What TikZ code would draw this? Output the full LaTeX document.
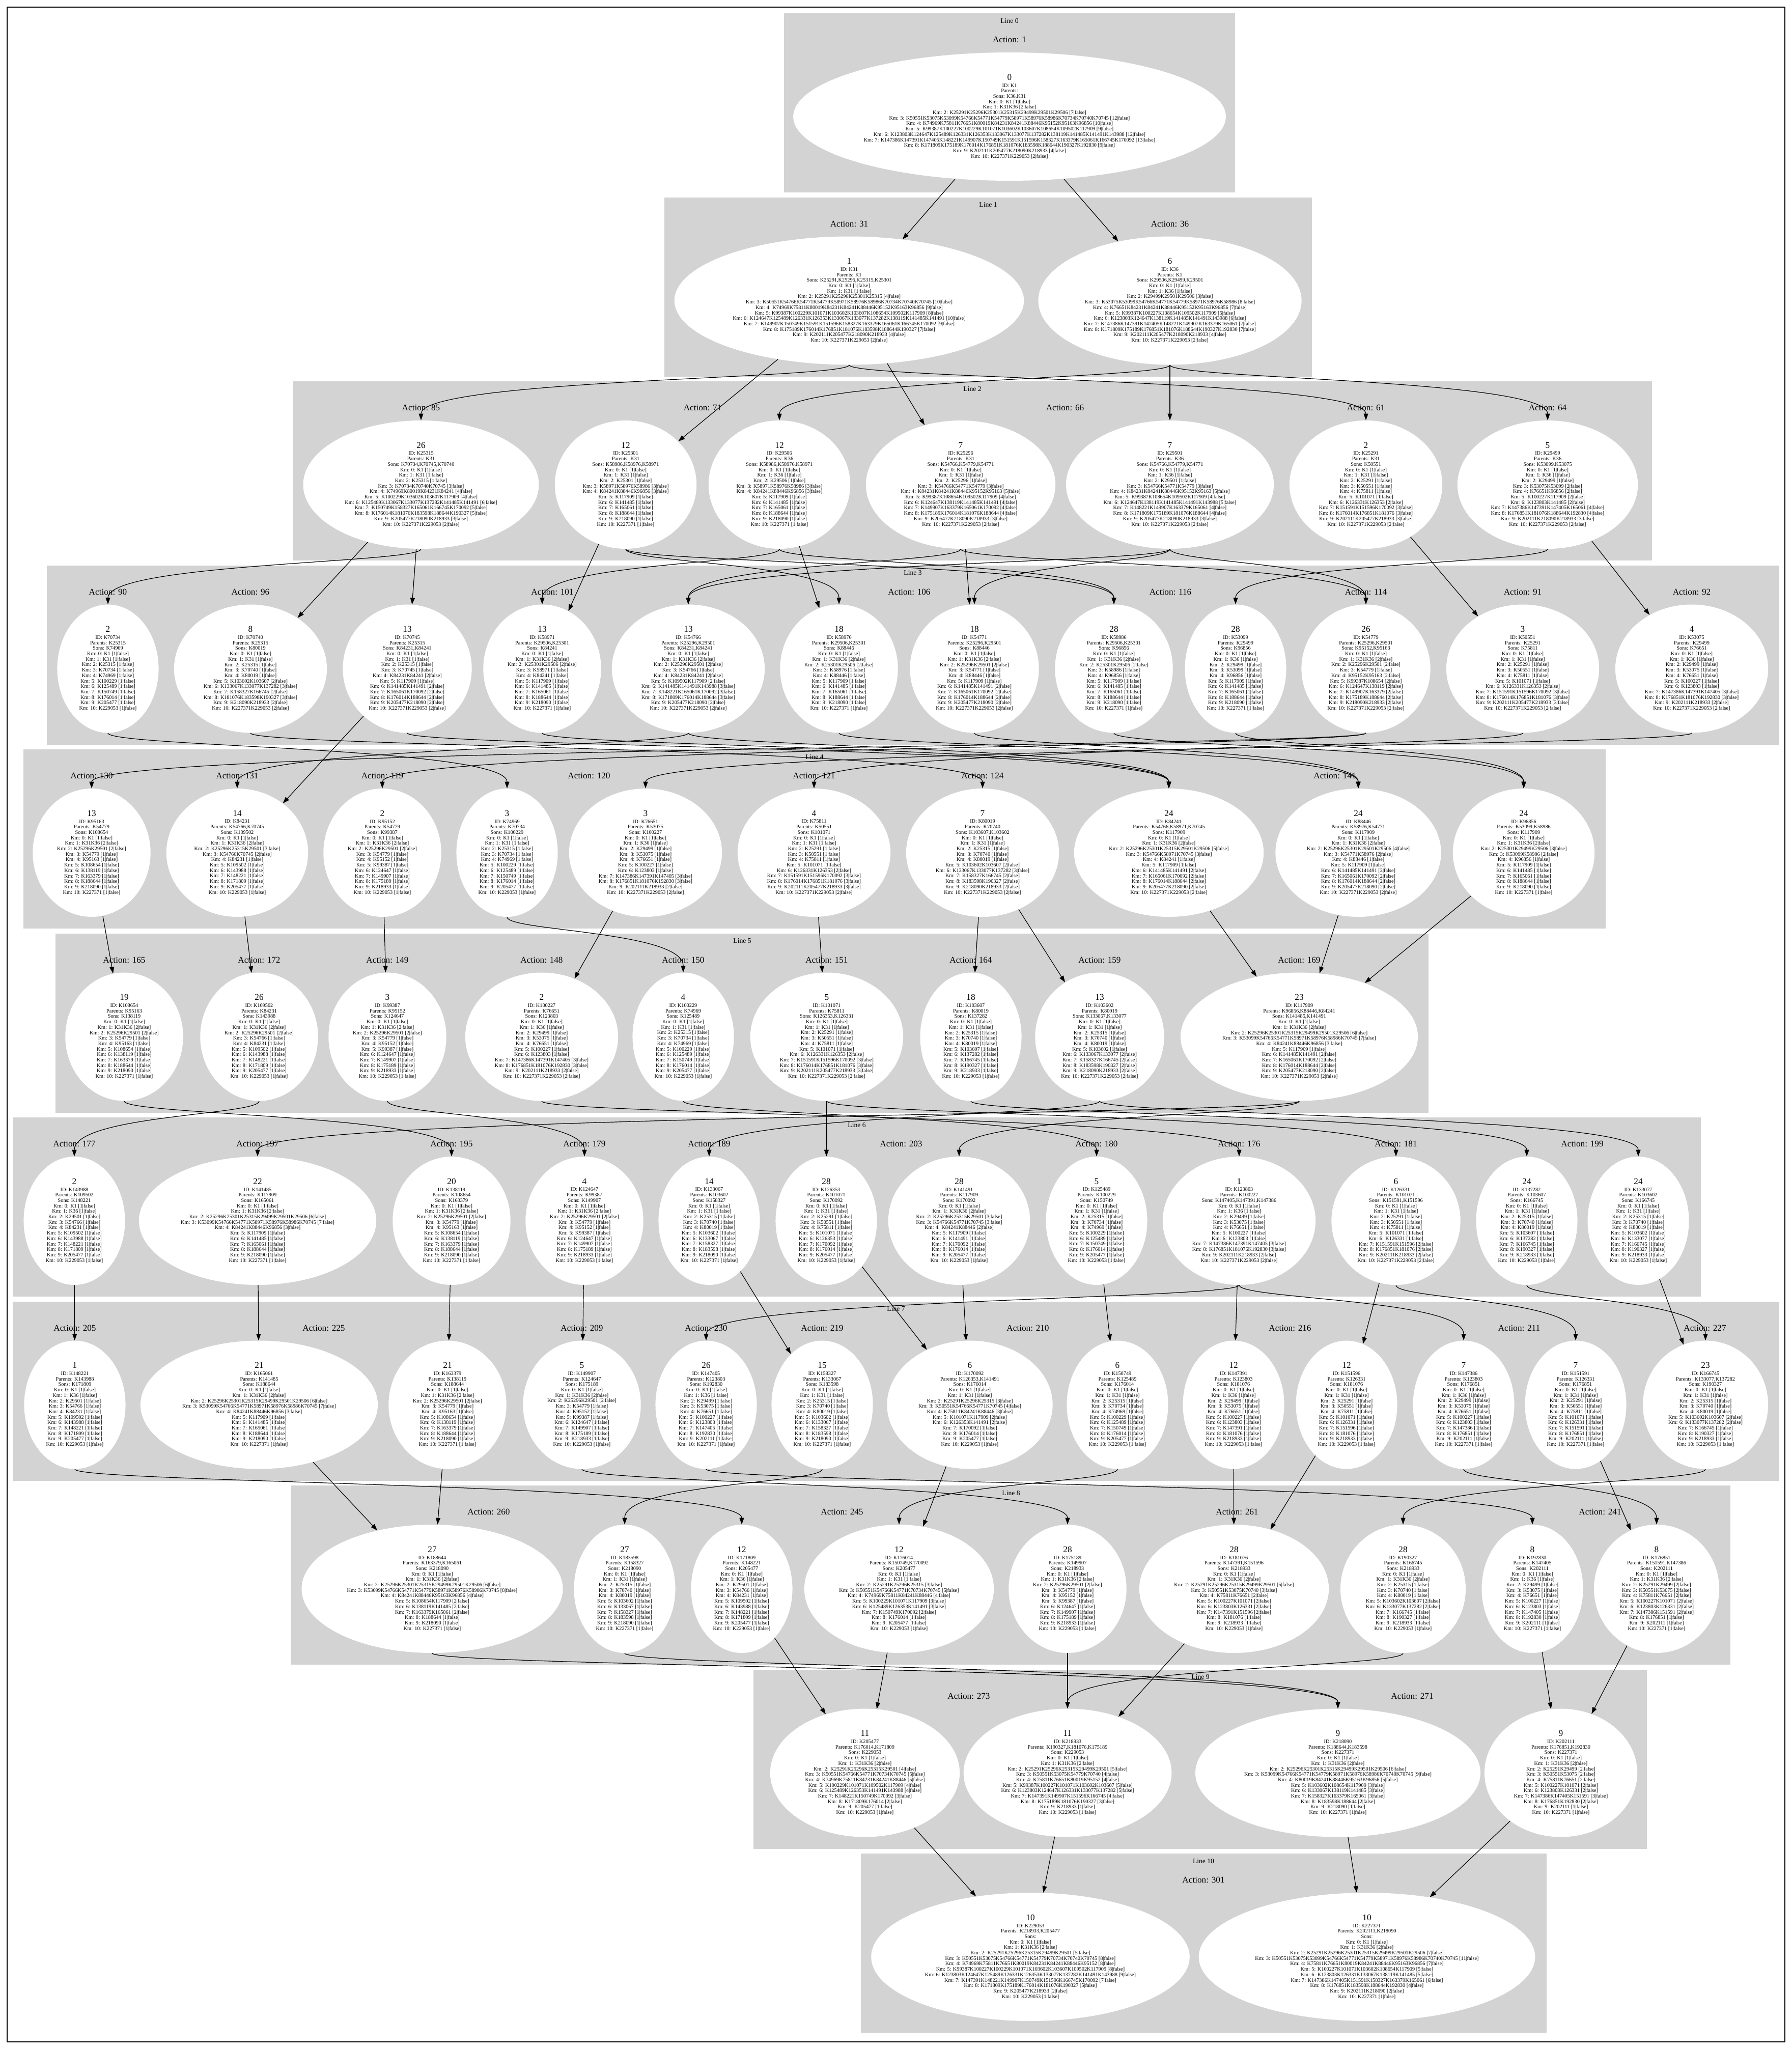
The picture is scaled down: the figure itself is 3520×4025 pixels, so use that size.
\documentclass[tikz,border=0pt]{standalone}
\usepackage{fontspec}
\setmainfont{Liberation Serif}
\usetikzlibrary{shapes.geometric,arrows.meta}

\definecolor{clustergrey}{HTML}{D3D3D3}

\newcommand{\kmhead}[4]{{\fontsize{8.6}{9}\selectfont #1}\\[1.6pt]ID: #2\\Parents: #3\\Sons: #4\\Km: 0: K1 [1|false]}
\newcommand{\kml}[3]{\\Km: #1: #2 [#3|false]}
% edge that drops into the gap under its line and runs along it
\newcommand{\gapedge}[3]{\draw[arr] (#1) .. controls (#1 |- 0,#3) and (#2 |- 0,#3) .. (#2);}

\begin{document}
\begin{tikzpicture}[
    x=0.5pt, y=-0.5pt,
    >={Triangle[length=6.5pt,width=4.5pt]},
    clus/.style={fill=clustergrey},
    linelbl/.style={font=\fontsize{6.8}{8}\selectfont, inner sep=0pt},
    actlbl/.style={font=\fontsize{8.6}{10}\selectfont, inner sep=0pt},
    knode/.style={ellipse, fill=white, inner xsep=7pt, inner ysep=2pt,
                  minimum height=126pt, align=center,
                  font=\fontsize{5.15}{5.35}\selectfont},
    arr/.style={->, line width=0.6pt}
  ]
    \useasboundingbox (0,0) rectangle (3520,4025);
    \draw[line width=1.2pt] (14,14) rectangle (3506,4011);

    %--- Line clusters ---
    \fill[clus] (1540,26) rectangle (2426,378);
    \fill[clus] (1305,387.5) rectangle (2577,739.5);
    \fill[clus] (575,749) rectangle (3245,1101);
    \fill[clus] (92,1110.5) rectangle (3494,1462.5);
    \fill[clus] (46,1472) rectangle (3154,1824);
    \fill[clus] (109,1833.5) rectangle (2806,2185.5);
    \fill[clus] (25,2195) rectangle (3341,2547);
    \fill[clus] (25,2556.5) rectangle (3494,2908.5);
    \fill[clus] (572,2918) rectangle (3399,3270);
    \fill[clus] (1480,3279.5) rectangle (3235,3631.5);
    \fill[clus] (1691,3641) rectangle (3038,3993);

    \node[linelbl] (line0) at (1983,41) {Line 0};
    \node[linelbl] (line1) at (1941,402.5) {Line 1};
    \node[linelbl] (line2) at (1910,764) {Line 2};
    \node[linelbl] (line3) at (1793,1125.5) {Line 3};
    \node[linelbl] (line4) at (1600,1487) {Line 4};
    \node[linelbl] (line5) at (1458,1848.5) {Line 5};
    \node[linelbl] (line6) at (1683,2210) {Line 6};
    \node[linelbl] (line7) at (1760,2571.5) {Line 7};
    \node[linelbl] (line8) at (1986,2933) {Line 8};
    \node[linelbl] (line9) at (2358,3294.5) {Line 9};
    \node[linelbl] (line10) at (2364,3656) {Line 10};

    %--- Action labels ---
    \node[actlbl] (act1) at (1983,78) {Action: 1};
    \node[actlbl] (act31) at (1668,439.5) {Action: 31};
    \node[actlbl] (act36) at (2298,439.5) {Action: 36};
    \node[actlbl] (act85) at (827,801) {Action: 85};
    \node[actlbl] (act71) at (1380,801) {Action: 71};
    \node[actlbl] (act66) at (2092,801) {Action: 66};
    \node[actlbl] (act61) at (2683,801) {Action: 61};
    \node[actlbl] (act64) at (3040,801) {Action: 64};
    \node[actlbl] (act90) at (212,1162.5) {Action: 90};
    \node[actlbl] (act96) at (492,1162.5) {Action: 96};
    \node[actlbl] (act101) at (1085,1162.5) {Action: 101};
    \node[actlbl] (act106) at (1786,1162.5) {Action: 106};
    \node[actlbl] (act116) at (2299,1162.5) {Action: 116};
    \node[actlbl] (act114) at (2683,1162.5) {Action: 114};
    \node[actlbl] (act91) at (2991,1162.5) {Action: 91};
    \node[actlbl] (act92) at (3323,1162.5) {Action: 92};
    \node[actlbl] (act130) at (180,1524) {Action: 130};
    \node[actlbl] (act131) at (466,1524) {Action: 131};
    \node[actlbl] (act119) at (751,1524) {Action: 119};
    \node[actlbl] (act120) at (1157,1524) {Action: 120};
    \node[actlbl] (act121) at (1599,1524) {Action: 121};
    \node[actlbl] (act124) at (1930,1524) {Action: 124};
    \node[actlbl] (act141) at (2622,1524) {Action: 141};
    \node[actlbl] (act165) at (244,1885.5) {Action: 165};
    \node[actlbl] (act172) at (509,1885.5) {Action: 172};
    \node[actlbl] (act149) at (761,1885.5) {Action: 149};
    \node[actlbl] (act148) at (1064,1885.5) {Action: 148};
    \node[actlbl] (act150) at (1342,1885.5) {Action: 150};
    \node[actlbl] (act151) at (1624,1885.5) {Action: 151};
    \node[actlbl] (act164) at (1907,1885.5) {Action: 164};
    \node[actlbl] (act159) at (2160,1885.5) {Action: 159};
    \node[actlbl] (act169) at (2552,1885.5) {Action: 169};
    \node[actlbl] (act177) at (146,2247) {Action: 177};
    \node[actlbl] (act197) at (506,2247) {Action: 197};
    \node[actlbl] (act195) at (887,2247) {Action: 195};
    \node[actlbl] (act179) at (1148,2247) {Action: 179};
    \node[actlbl] (act189) at (1393,2247) {Action: 189};
    \node[actlbl] (act203) at (1770,2247) {Action: 203};
    \node[actlbl] (act180) at (2154,2247) {Action: 180};
    \node[actlbl] (act176) at (2434,2247) {Action: 176};
    \node[actlbl] (act181) at (2742,2247) {Action: 181};
    \node[actlbl] (act199) at (3108,2247) {Action: 199};
    \node[actlbl] (act205) at (147,2608.5) {Action: 205};
    \node[actlbl] (act225) at (636,2608.5) {Action: 225};
    \node[actlbl] (act209) at (1143,2608.5) {Action: 209};
    \node[actlbl] (act230) at (1387,2608.5) {Action: 230};
    \node[actlbl] (act219) at (1615,2608.5) {Action: 219};
    \node[actlbl] (act210) at (2019,2608.5) {Action: 210};
    \node[actlbl] (act216) at (2534,2608.5) {Action: 216};
    \node[actlbl] (act211) at (2984,2608.5) {Action: 211};
    \node[actlbl] (act227) at (3349,2608.5) {Action: 227};
    \node[actlbl] (act260) at (960,2970) {Action: 260};
    \node[actlbl] (act245) at (1654,2970) {Action: 245};
    \node[actlbl] (act261) at (2430,2970) {Action: 261};
    \node[actlbl] (act241) at (3143,2970) {Action: 241};
    \node[actlbl] (act273) at (1903,3331.5) {Action: 273};
    \node[actlbl] (act271) at (2774,3331.5) {Action: 271};
    \node[actlbl] (act301) at (2364,3693) {Action: 301};

    %--- Line 0 ---
    \node[knode] (k1) at (1983,229) {\kmhead{0}{K1}{}{K36,K31}
      \kml{1}{K31K36}{2}\kml{2}{K25291K25296K25301K25315K29499K29501K29506}{7}
      \kml{3}{K50551K53075K53099K54766K54771K54779K58971K58976K58986K70734K70740K70745}{12}
      \kml{4}{K74969K75811K76651K80019K84231K84241K88446K95152K95163K96856}{10}
      \kml{5}{K99387K100227K100229K101071K103602K103607K108654K109502K117909}{9}
      \kml{6}{K123803K124647K125489K126331K126353K133067K133077K137282K138119K141485K141491K143988}{12}
      \kml{7}{K147386K147391K147405K148221K149907K150749K151591K151596K158327K163379K165061K166745K170092}{13}
      \kml{8}{K171809K175189K176014K176851K181076K183598K188644K190327K192830}{9}
      \kml{9}{K202111K205477K218090K218933}{4}\kml{10}{K227371K229053}{2}};

    %--- Line 1 ---
    \node[knode] (k31) at (1668,590.5) {\kmhead{1}{K31}{K1}{K25291,K25296,K25315,K25301}
      \kml{1}{K31}{1}\kml{2}{K25291K25296K25301K25315}{4}
      \kml{3}{K50551K54766K54771K54779K58971K58976K58986K70734K70740K70745}{10}
      \kml{4}{K74969K75811K80019K84231K84241K88446K95152K95163K96856}{9}
      \kml{5}{K99387K100229K101071K103602K103607K108654K109502K117909}{8}
      \kml{6}{K124647K125489K126331K126353K133067K133077K137282K138119K141485K141491}{10}
      \kml{7}{K149907K150749K151591K151596K158327K163379K165061K166745K170092}{9}
      \kml{8}{K175189K176014K176851K181076K183598K188644K190327}{7}
      \kml{9}{K202111K205477K218090K218933}{4}\kml{10}{K227371K229053}{2}};
    \node[knode] (k36) at (2298,590.5) {\kmhead{6}{K36}{K1}{K29506,K29499,K29501}
      \kml{1}{K36}{1}\kml{2}{K29499K29501K29506}{3}
      \kml{3}{K53075K53099K54766K54771K54779K58971K58976K58986}{8}
      \kml{4}{K76651K84231K84241K88446K95152K95163K96856}{7}
      \kml{5}{K99387K100227K108654K109502K117909}{5}
      \kml{6}{K123803K124647K138119K141485K141491K143988}{6}
      \kml{7}{K147386K147391K147405K148221K149907K163379K165061}{7}
      \kml{8}{K171809K175189K176851K181076K188644K190327K192830}{7}
      \kml{9}{K202111K205477K218090K218933}{4}\kml{10}{K227371K229053}{2}};

    %--- Line 2 ---
    \node[knode] (k25315) at (827,952) {\kmhead{26}{K25315}{K31}{K70734,K70745,K70740}
      \kml{1}{K31}{1}\kml{2}{K25315}{1}\kml{3}{K70734K70740K70745}{3}
      \kml{4}{K74969K80019K84231K84241}{4}\kml{5}{K100229K103602K103607K117909}{4}
      \kml{6}{K125489K133067K133077K137282K141485K141491}{6}
      \kml{7}{K150749K158327K165061K166745K170092}{5}
      \kml{8}{K176014K181076K183598K188644K190327}{5}
      \kml{9}{K205477K218090K218933}{3}\kml{10}{K227371K229053}{2}};
    \node[knode] (k25301) at (1229,952) {\kmhead{12}{K25301}{K31}{K58986,K58976,K58971}
      \kml{1}{K31}{1}\kml{2}{K25301}{1}\kml{3}{K58971K58976K58986}{3}
      \kml{4}{K84241K88446K96856}{3}\kml{5}{K117909}{1}\kml{6}{K141485}{1}
      \kml{7}{K165061}{1}\kml{8}{K188644}{1}\kml{9}{K218090}{1}\kml{10}{K227371}{1}};
    \node[knode] (k29506) at (1531,952) {\kmhead{12}{K29506}{K36}{K58986,K58976,K58971}
      \kml{1}{K36}{1}\kml{2}{K29506}{1}\kml{3}{K58971K58976K58986}{3}
      \kml{4}{K84241K88446K96856}{3}\kml{5}{K117909}{1}\kml{6}{K141485}{1}
      \kml{7}{K165061}{1}\kml{8}{K188644}{1}\kml{9}{K218090}{1}\kml{10}{K227371}{1}};
    \node[knode] (k25296) at (1887,952) {\kmhead{7}{K25296}{K31}{K54766,K54779,K54771}
      \kml{1}{K31}{1}\kml{2}{K25296}{1}\kml{3}{K54766K54771K54779}{3}
      \kml{4}{K84231K84241K88446K95152K95163}{5}\kml{5}{K99387K108654K109502K117909}{4}
      \kml{6}{K124647K138119K141485K141491}{4}\kml{7}{K149907K163379K165061K170092}{4}
      \kml{8}{K175189K176014K181076K188644}{4}\kml{9}{K205477K218090K218933}{3}
      \kml{10}{K227371K229053}{2}};
    \node[knode] (k29501) at (2298,952) {\kmhead{7}{K29501}{K36}{K54766,K54779,K54771}
      \kml{1}{K36}{1}\kml{2}{K29501}{1}\kml{3}{K54766K54771K54779}{3}
      \kml{4}{K84231K84241K88446K95152K95163}{5}\kml{5}{K99387K108654K109502K117909}{4}
      \kml{6}{K124647K138119K141485K141491K143988}{5}\kml{7}{K148221K149907K163379K165061}{4}
      \kml{8}{K171809K175189K181076K188644}{4}\kml{9}{K205477K218090K218933}{3}
      \kml{10}{K227371K229053}{2}};
    \node[knode] (k25291) at (2683,952) {\kmhead{2}{K25291}{K31}{K50551}
      \kml{1}{K31}{1}\kml{2}{K25291}{1}\kml{3}{K50551}{1}\kml{4}{K75811}{1}
      \kml{5}{K101071}{1}\kml{6}{K126331K126353}{2}\kml{7}{K151591K151596K170092}{3}
      \kml{8}{K176014K176851K181076}{3}\kml{9}{K202111K205477K218933}{3}
      \kml{10}{K227371K229053}{2}};
    \node[knode] (k29499) at (3040,952) {\kmhead{5}{K29499}{K36}{K53099,K53075}
      \kml{1}{K36}{1}\kml{2}{K29499}{1}\kml{3}{K53075K53099}{2}\kml{4}{K76651K96856}{2}
      \kml{5}{K100227K117909}{2}\kml{6}{K123803K141485}{2}
      \kml{7}{K147386K147391K147405K165061}{4}\kml{8}{K176851K181076K188644K192830}{4}
      \kml{9}{K202111K218090K218933}{3}\kml{10}{K227371K229053}{2}};

    %--- Line 3 ---
    \node[knode] (k70734) at (212,1313.5) {\kmhead{2}{K70734}{K25315}{K74969}
      \kml{1}{K31}{1}\kml{2}{K25315}{1}\kml{3}{K70734}{1}\kml{4}{K74969}{1}
      \kml{5}{K100229}{1}\kml{6}{K125489}{1}\kml{7}{K150749}{1}\kml{8}{K176014}{1}
      \kml{9}{K205477}{1}\kml{10}{K229053}{1}};
    \node[knode] (k70740) at (492,1313.5) {\kmhead{8}{K70740}{K25315}{K80019}
      \kml{1}{K31}{1}\kml{2}{K25315}{1}\kml{3}{K70740}{1}\kml{4}{K80019}{1}
      \kml{5}{K103602K103607}{2}\kml{6}{K133067K133077K137282}{3}\kml{7}{K158327K166745}{2}
      \kml{8}{K181076K183598K190327}{3}\kml{9}{K218090K218933}{2}\kml{10}{K227371K229053}{2}};
    \node[knode] (k70745) at (800,1313.5) {\kmhead{13}{K70745}{K25315}{K84231,K84241}
      \kml{1}{K31}{1}\kml{2}{K25315}{1}\kml{3}{K70745}{1}\kml{4}{K84231K84241}{2}
      \kml{5}{K117909}{1}\kml{6}{K141485K141491}{2}\kml{7}{K165061K170092}{2}
      \kml{8}{K176014K188644}{2}\kml{9}{K205477K218090}{2}\kml{10}{K227371K229053}{2}};
    \node[knode] (k58971) at (1065,1313.5) {\kmhead{13}{K58971}{K29506,K25301}{K84241}
      \kml{1}{K31K36}{2}\kml{2}{K25301K29506}{2}\kml{3}{K58971}{1}\kml{4}{K84241}{1}
      \kml{5}{K117909}{1}\kml{6}{K141485}{1}\kml{7}{K165061}{1}\kml{8}{K188644}{1}
      \kml{9}{K218090}{1}\kml{10}{K227371}{1}};
    \node[knode] (k54766) at (1352,1313.5) {\kmhead{13}{K54766}{K25296,K29501}{K84231,K84241}
      \kml{1}{K31K36}{2}\kml{2}{K25296K29501}{2}\kml{3}{K54766}{1}\kml{4}{K84231K84241}{2}
      \kml{5}{K109502K117909}{2}\kml{6}{K141485K141491K143988}{3}
      \kml{7}{K148221K165061K170092}{3}\kml{8}{K171809K176014K188644}{3}
      \kml{9}{K205477K218090}{2}\kml{10}{K227371K229053}{2}};
    \node[knode] (k58976) at (1648,1313.5) {\kmhead{18}{K58976}{K29506,K25301}{K88446}
      \kml{1}{K31K36}{2}\kml{2}{K25301K29506}{2}\kml{3}{K58976}{1}\kml{4}{K88446}{1}
      \kml{5}{K117909}{1}\kml{6}{K141485}{1}\kml{7}{K165061}{1}\kml{8}{K188644}{1}
      \kml{9}{K218090}{1}\kml{10}{K227371}{1}};
    \node[knode] (k54771) at (1914,1313.5) {\kmhead{18}{K54771}{K25296,K29501}{K88446}
      \kml{1}{K31K36}{2}\kml{2}{K25296K29501}{2}\kml{3}{K54771}{1}\kml{4}{K88446}{1}
      \kml{5}{K117909}{1}\kml{6}{K141485K141491}{2}\kml{7}{K165061K170092}{2}
      \kml{8}{K176014K188644}{2}\kml{9}{K205477K218090}{2}\kml{10}{K227371K229053}{2}};
    \node[knode] (k58986) at (2188,1313.5) {\kmhead{28}{K58986}{K29506,K25301}{K96856}
      \kml{1}{K31K36}{2}\kml{2}{K25301K29506}{2}\kml{3}{K58986}{1}\kml{4}{K96856}{1}
      \kml{5}{K117909}{1}\kml{6}{K141485}{1}\kml{7}{K165061}{1}\kml{8}{K188644}{1}
      \kml{9}{K218090}{1}\kml{10}{K227371}{1}};
    \node[knode] (k53099) at (2427,1313.5) {\kmhead{28}{K53099}{K29499}{K96856}
      \kml{1}{K36}{1}\kml{2}{K29499}{1}\kml{3}{K53099}{1}\kml{4}{K96856}{1}
      \kml{5}{K117909}{1}\kml{6}{K141485}{1}\kml{7}{K165061}{1}\kml{8}{K188644}{1}
      \kml{9}{K218090}{1}\kml{10}{K227371}{1}};
    \node[knode] (k54779) at (2683,1313.5) {\kmhead{26}{K54779}{K25296,K29501}{K95152,K95163}
      \kml{1}{K31K36}{2}\kml{2}{K25296K29501}{2}\kml{3}{K54779}{1}\kml{4}{K95152K95163}{2}
      \kml{5}{K99387K108654}{2}\kml{6}{K124647K138119}{2}\kml{7}{K149907K163379}{2}
      \kml{8}{K175189K188644}{2}\kml{9}{K218090K218933}{2}\kml{10}{K227371K229053}{2}};
    \node[knode] (k50551) at (2991,1313.5) {\kmhead{3}{K50551}{K25291}{K75811}
      \kml{1}{K31}{1}\kml{2}{K25291}{1}\kml{3}{K50551}{1}\kml{4}{K75811}{1}
      \kml{5}{K101071}{1}\kml{6}{K126331K126353}{2}\kml{7}{K151591K151596K170092}{3}
      \kml{8}{K176014K176851K181076}{3}\kml{9}{K202111K205477K218933}{3}
      \kml{10}{K227371K229053}{2}};
    \node[knode] (k53075) at (3323,1313.5) {\kmhead{4}{K53075}{K29499}{K76651}
      \kml{1}{K36}{1}\kml{2}{K29499}{1}\kml{3}{K53075}{1}\kml{4}{K76651}{1}
      \kml{5}{K100227}{1}\kml{6}{K123803}{1}\kml{7}{K147386K147391K147405}{3}
      \kml{8}{K176851K181076K192830}{3}\kml{9}{K202111K218933}{2}\kml{10}{K227371K229053}{2}};

    %--- Line 4 ---
    \node[knode] (k95163) at (180,1675) {\kmhead{13}{K95163}{K54779}{K108654}
      \kml{1}{K31K36}{2}\kml{2}{K25296K29501}{2}\kml{3}{K54779}{1}\kml{4}{K95163}{1}
      \kml{5}{K108654}{1}\kml{6}{K138119}{1}\kml{7}{K163379}{1}\kml{8}{K188644}{1}
      \kml{9}{K218090}{1}\kml{10}{K227371}{1}};
    \node[knode] (k84231) at (466,1675) {\kmhead{14}{K84231}{K54766,K70745}{K109502}
      \kml{1}{K31K36}{2}\kml{2}{K25296K25315K29501}{3}\kml{3}{K54766K70745}{2}
      \kml{4}{K84231}{1}\kml{5}{K109502}{1}\kml{6}{K143988}{1}\kml{7}{K148221}{1}
      \kml{8}{K171809}{1}\kml{9}{K205477}{1}\kml{10}{K229053}{1}};
    \node[knode] (k95152) at (751,1675) {\kmhead{2}{K95152}{K54779}{K99387}
      \kml{1}{K31K36}{2}\kml{2}{K25296K29501}{2}\kml{3}{K54779}{1}\kml{4}{K95152}{1}
      \kml{5}{K99387}{1}\kml{6}{K124647}{1}\kml{7}{K149907}{1}\kml{8}{K175189}{1}
      \kml{9}{K218933}{1}\kml{10}{K229053}{1}};
    \node[knode] (k74969) at (996,1675) {\kmhead{3}{K74969}{K70734}{K100229}
      \kml{1}{K31}{1}\kml{2}{K25315}{1}\kml{3}{K70734}{1}\kml{4}{K74969}{1}
      \kml{5}{K100229}{1}\kml{6}{K125489}{1}\kml{7}{K150749}{1}\kml{8}{K176014}{1}
      \kml{9}{K205477}{1}\kml{10}{K229053}{1}};
    \node[knode] (k76651) at (1268,1675) {\kmhead{3}{K76651}{K53075}{K100227}
      \kml{1}{K36}{1}\kml{2}{K29499}{1}\kml{3}{K53075}{1}\kml{4}{K76651}{1}
      \kml{5}{K100227}{1}\kml{6}{K123803}{1}\kml{7}{K147386K147391K147405}{3}
      \kml{8}{K176851K181076K192830}{3}\kml{9}{K202111K218933}{2}\kml{10}{K227371K229053}{2}};
    \node[knode] (k75811) at (1599,1675) {\kmhead{4}{K75811}{K50551}{K101071}
      \kml{1}{K31}{1}\kml{2}{K25291}{1}\kml{3}{K50551}{1}\kml{4}{K75811}{1}
      \kml{5}{K101071}{1}\kml{6}{K126331K126353}{2}\kml{7}{K151591K151596K170092}{3}
      \kml{8}{K176014K176851K181076}{3}\kml{9}{K202111K205477K218933}{3}
      \kml{10}{K227371K229053}{2}};
    \node[knode] (k80019) at (1930,1675) {\kmhead{7}{K80019}{K70740}{K103607,K103602}
      \kml{1}{K31}{1}\kml{2}{K25315}{1}\kml{3}{K70740}{1}\kml{4}{K80019}{1}
      \kml{5}{K103602K103607}{2}\kml{6}{K133067K133077K137282}{3}\kml{7}{K158327K166745}{2}
      \kml{8}{K183598K190327}{2}\kml{9}{K218090K218933}{2}\kml{10}{K227371K229053}{2}};
    \node[knode] (k84241) at (2296,1675) {\kmhead{24}{K84241}{K54766,K58971,K70745}{K117909}
      \kml{1}{K31K36}{2}\kml{2}{K25296K25301K25315K29501K29506}{5}
      \kml{3}{K54766K58971K70745}{3}\kml{4}{K84241}{1}\kml{5}{K117909}{1}
      \kml{6}{K141485K141491}{2}\kml{7}{K165061K170092}{2}\kml{8}{K176014K188644}{2}
      \kml{9}{K205477K218090}{2}\kml{10}{K227371K229053}{2}};
    \node[knode] (k88446) at (2668,1675) {\kmhead{24}{K88446}{K58976,K54771}{K117909}
      \kml{1}{K31K36}{2}\kml{2}{K25296K25301K29501K29506}{4}\kml{3}{K54771K58976}{2}
      \kml{4}{K88446}{1}\kml{5}{K117909}{1}\kml{6}{K141485K141491}{2}
      \kml{7}{K165061K170092}{2}\kml{8}{K176014K188644}{2}\kml{9}{K205477K218090}{2}
      \kml{10}{K227371K229053}{2}};
    \node[knode] (k96856) at (2993,1675) {\kmhead{24}{K96856}{K53099,K58986}{K117909}
      \kml{1}{K31K36}{2}\kml{2}{K25301K29499K29506}{3}\kml{3}{K53099K58986}{2}
      \kml{4}{K96856}{1}\kml{5}{K117909}{1}\kml{6}{K141485}{1}\kml{7}{K165061}{1}
      \kml{8}{K188644}{1}\kml{9}{K218090}{1}\kml{10}{K227371}{1}};

    %--- Line 5 ---
    \node[knode] (k108654) at (244,2036.5) {\kmhead{19}{K108654}{K95163}{K138119}
      \kml{1}{K31K36}{2}\kml{2}{K25296K29501}{2}\kml{3}{K54779}{1}\kml{4}{K95163}{1}
      \kml{5}{K108654}{1}\kml{6}{K138119}{1}\kml{7}{K163379}{1}\kml{8}{K188644}{1}
      \kml{9}{K218090}{1}\kml{10}{K227371}{1}};
    \node[knode] (k109502) at (509,2036.5) {\kmhead{26}{K109502}{K84231}{K143988}
      \kml{1}{K31K36}{2}\kml{2}{K25296K29501}{2}\kml{3}{K54766}{1}\kml{4}{K84231}{1}
      \kml{5}{K109502}{1}\kml{6}{K143988}{1}\kml{7}{K148221}{1}\kml{8}{K171809}{1}
      \kml{9}{K205477}{1}\kml{10}{K229053}{1}};
    \node[knode] (k99387) at (761,2036.5) {\kmhead{3}{K99387}{K95152}{K124647}
      \kml{1}{K31K36}{2}\kml{2}{K25296K29501}{2}\kml{3}{K54779}{1}\kml{4}{K95152}{1}
      \kml{5}{K99387}{1}\kml{6}{K124647}{1}\kml{7}{K149907}{1}\kml{8}{K175189}{1}
      \kml{9}{K218933}{1}\kml{10}{K229053}{1}};
    \node[knode] (k100227) at (1064,2036.5) {\kmhead{2}{K100227}{K76651}{K123803}
      \kml{1}{K36}{1}\kml{2}{K29499}{1}\kml{3}{K53075}{1}\kml{4}{K76651}{1}
      \kml{5}{K100227}{1}\kml{6}{K123803}{1}\kml{7}{K147386K147391K147405}{3}
      \kml{8}{K176851K181076K192830}{3}\kml{9}{K202111K218933}{2}\kml{10}{K227371K229053}{2}};
    \node[knode] (k100229) at (1342,2036.5) {\kmhead{4}{K100229}{K74969}{K125489}
      \kml{1}{K31}{1}\kml{2}{K25315}{1}\kml{3}{K70734}{1}\kml{4}{K74969}{1}
      \kml{5}{K100229}{1}\kml{6}{K125489}{1}\kml{7}{K150749}{1}\kml{8}{K176014}{1}
      \kml{9}{K205477}{1}\kml{10}{K229053}{1}};
    \node[knode] (k101071) at (1624,2036.5) {\kmhead{5}{K101071}{K75811}{K126353,K126331}
      \kml{1}{K31}{1}\kml{2}{K25291}{1}\kml{3}{K50551}{1}\kml{4}{K75811}{1}
      \kml{5}{K101071}{1}\kml{6}{K126331K126353}{2}\kml{7}{K151591K151596K170092}{3}
      \kml{8}{K176014K176851K181076}{3}\kml{9}{K202111K205477K218933}{3}
      \kml{10}{K227371K229053}{2}};
    \node[knode] (k103607) at (1907,2036.5) {\kmhead{18}{K103607}{K80019}{K137282}
      \kml{1}{K31}{1}\kml{2}{K25315}{1}\kml{3}{K70740}{1}\kml{4}{K80019}{1}
      \kml{5}{K103607}{1}\kml{6}{K137282}{1}\kml{7}{K166745}{1}\kml{8}{K190327}{1}
      \kml{9}{K218933}{1}\kml{10}{K229053}{1}};
    \node[knode] (k103602) at (2160,2036.5) {\kmhead{13}{K103602}{K80019}{K133067,K133077}
      \kml{1}{K31}{1}\kml{2}{K25315}{1}\kml{3}{K70740}{1}\kml{4}{K80019}{1}
      \kml{5}{K103602}{1}\kml{6}{K133067K133077}{2}\kml{7}{K158327K166745}{2}
      \kml{8}{K183598K190327}{2}\kml{9}{K218090K218933}{2}\kml{10}{K227371K229053}{2}};
    \node[knode] (k117909) at (2552,2036.5) {\kmhead{23}{K117909}{K96856,K88446,K84241}{K141485,K141491}
      \kml{1}{K31K36}{2}\kml{2}{K25296K25301K25315K29499K29501K29506}{6}
      \kml{3}{K53099K54766K54771K58971K58976K58986K70745}{7}\kml{4}{K84241K88446K96856}{3}
      \kml{5}{K117909}{1}\kml{6}{K141485K141491}{2}\kml{7}{K165061K170092}{2}
      \kml{8}{K176014K188644}{2}\kml{9}{K205477K218090}{2}\kml{10}{K227371K229053}{2}};

    %--- Line 6 ---
    \node[knode] (k143988) at (146,2398) {\kmhead{2}{K143988}{K109502}{K148221}
      \kml{1}{K36}{1}\kml{2}{K29501}{1}\kml{3}{K54766}{1}\kml{4}{K84231}{1}
      \kml{5}{K109502}{1}\kml{6}{K143988}{1}\kml{7}{K148221}{1}\kml{8}{K171809}{1}
      \kml{9}{K205477}{1}\kml{10}{K229053}{1}};
    \node[knode] (k141485) at (506,2398) {\kmhead{22}{K141485}{K117909}{K165061}
      \kml{1}{K31K36}{2}\kml{2}{K25296K25301K25315K29499K29501K29506}{6}
      \kml{3}{K53099K54766K54771K58971K58976K58986K70745}{7}\kml{4}{K84241K88446K96856}{3}
      \kml{5}{K117909}{1}\kml{6}{K141485}{1}\kml{7}{K165061}{1}\kml{8}{K188644}{1}
      \kml{9}{K218090}{1}\kml{10}{K227371}{1}};
    \node[knode] (k138119) at (887,2398) {\kmhead{20}{K138119}{K108654}{K163379}
      \kml{1}{K31K36}{2}\kml{2}{K25296K29501}{2}\kml{3}{K54779}{1}\kml{4}{K95163}{1}
      \kml{5}{K108654}{1}\kml{6}{K138119}{1}\kml{7}{K163379}{1}\kml{8}{K188644}{1}
      \kml{9}{K218090}{1}\kml{10}{K227371}{1}};
    \node[knode] (k124647) at (1148,2398) {\kmhead{4}{K124647}{K99387}{K149907}
      \kml{1}{K31K36}{2}\kml{2}{K25296K29501}{2}\kml{3}{K54779}{1}\kml{4}{K95152}{1}
      \kml{5}{K99387}{1}\kml{6}{K124647}{1}\kml{7}{K149907}{1}\kml{8}{K175189}{1}
      \kml{9}{K218933}{1}\kml{10}{K229053}{1}};
    \node[knode] (k133067) at (1393,2398) {\kmhead{14}{K133067}{K103602}{K158327}
      \kml{1}{K31}{1}\kml{2}{K25315}{1}\kml{3}{K70740}{1}\kml{4}{K80019}{1}
      \kml{5}{K103602}{1}\kml{6}{K133067}{1}\kml{7}{K158327}{1}\kml{8}{K183598}{1}
      \kml{9}{K218090}{1}\kml{10}{K227371}{1}};
    \node[knode] (k126353) at (1623,2398) {\kmhead{28}{K126353}{K101071}{K170092}
      \kml{1}{K31}{1}\kml{2}{K25291}{1}\kml{3}{K50551}{1}\kml{4}{K75811}{1}
      \kml{5}{K101071}{1}\kml{6}{K126353}{1}\kml{7}{K170092}{1}\kml{8}{K176014}{1}
      \kml{9}{K205477}{1}\kml{10}{K229053}{1}};
    \node[knode] (k141491) at (1884,2398) {\kmhead{28}{K141491}{K117909}{K170092}
      \kml{1}{K31K36}{2}\kml{2}{K25296K25315K29501}{3}\kml{3}{K54766K54771K70745}{3}
      \kml{4}{K84241K88446}{2}\kml{5}{K117909}{1}\kml{6}{K141491}{1}\kml{7}{K170092}{1}
      \kml{8}{K176014}{1}\kml{9}{K205477}{1}\kml{10}{K229053}{1}};
    \node[knode] (k125489) at (2154,2398) {\kmhead{5}{K125489}{K100229}{K150749}
      \kml{1}{K31}{1}\kml{2}{K25315}{1}\kml{3}{K70734}{1}\kml{4}{K74969}{1}
      \kml{5}{K100229}{1}\kml{6}{K125489}{1}\kml{7}{K150749}{1}\kml{8}{K176014}{1}
      \kml{9}{K205477}{1}\kml{10}{K229053}{1}};
    \node[knode] (k123803) at (2434,2398) {\kmhead{1}{K123803}{K100227}{K147405,K147391,K147386}
      \kml{1}{K36}{1}\kml{2}{K29499}{1}\kml{3}{K53075}{1}\kml{4}{K76651}{1}
      \kml{5}{K100227}{1}\kml{6}{K123803}{1}\kml{7}{K147386K147391K147405}{3}
      \kml{8}{K176851K181076K192830}{3}\kml{9}{K202111K218933}{2}\kml{10}{K227371K229053}{2}};
    \node[knode] (k126331) at (2742,2398) {\kmhead{6}{K126331}{K101071}{K151591,K151596}
      \kml{1}{K31}{1}\kml{2}{K25291}{1}\kml{3}{K50551}{1}\kml{4}{K75811}{1}
      \kml{5}{K101071}{1}\kml{6}{K126331}{1}\kml{7}{K151591K151596}{2}
      \kml{8}{K176851K181076}{2}\kml{9}{K202111K218933}{2}\kml{10}{K227371K229053}{2}};
    \node[knode] (k137282) at (2999,2398) {\kmhead{24}{K137282}{K103607}{K166745}
      \kml{1}{K31}{1}\kml{2}{K25315}{1}\kml{3}{K70740}{1}\kml{4}{K80019}{1}
      \kml{5}{K103607}{1}\kml{6}{K137282}{1}\kml{7}{K166745}{1}\kml{8}{K190327}{1}
      \kml{9}{K218933}{1}\kml{10}{K229053}{1}};
    \node[knode] (k133077) at (3218,2398) {\kmhead{24}{K133077}{K103602}{K166745}
      \kml{1}{K31}{1}\kml{2}{K25315}{1}\kml{3}{K70740}{1}\kml{4}{K80019}{1}
      \kml{5}{K103602}{1}\kml{6}{K133077}{1}\kml{7}{K166745}{1}\kml{8}{K190327}{1}
      \kml{9}{K218933}{1}\kml{10}{K229053}{1}};

    %--- Line 7 ---
    \node[knode] (k148221) at (147,2759.5) {\kmhead{1}{K148221}{K143988}{K171809}
      \kml{1}{K36}{1}\kml{2}{K29501}{1}\kml{3}{K54766}{1}\kml{4}{K84231}{1}
      \kml{5}{K109502}{1}\kml{6}{K143988}{1}\kml{7}{K148221}{1}\kml{8}{K171809}{1}
      \kml{9}{K205477}{1}\kml{10}{K229053}{1}};
    \node[knode] (k165061) at (509,2759.5) {\kmhead{21}{K165061}{K141485}{K188644}
      \kml{1}{K31K36}{2}\kml{2}{K25296K25301K25315K29499K29501K29506}{6}
      \kml{3}{K53099K54766K54771K58971K58976K58986K70745}{7}\kml{4}{K84241K88446K96856}{3}
      \kml{5}{K117909}{1}\kml{6}{K141485}{1}\kml{7}{K165061}{1}\kml{8}{K188644}{1}
      \kml{9}{K218090}{1}\kml{10}{K227371}{1}};
    \node[knode] (k163379) at (879,2759.5) {\kmhead{21}{K163379}{K138119}{K188644}
      \kml{1}{K31K36}{2}\kml{2}{K25296K29501}{2}\kml{3}{K54779}{1}\kml{4}{K95163}{1}
      \kml{5}{K108654}{1}\kml{6}{K138119}{1}\kml{7}{K163379}{1}\kml{8}{K188644}{1}
      \kml{9}{K218090}{1}\kml{10}{K227371}{1}};
    \node[knode] (k149907) at (1143,2759.5) {\kmhead{5}{K149907}{K124647}{K175189}
      \kml{1}{K31K36}{2}\kml{2}{K25296K29501}{2}\kml{3}{K54779}{1}\kml{4}{K95152}{1}
      \kml{5}{K99387}{1}\kml{6}{K124647}{1}\kml{7}{K149907}{1}\kml{8}{K175189}{1}
      \kml{9}{K218933}{1}\kml{10}{K229053}{1}};
    \node[knode] (k147405) at (1387,2759.5) {\kmhead{26}{K147405}{K123803}{K192830}
      \kml{1}{K36}{1}\kml{2}{K29499}{1}\kml{3}{K53075}{1}\kml{4}{K76651}{1}
      \kml{5}{K100227}{1}\kml{6}{K123803}{1}\kml{7}{K147405}{1}\kml{8}{K192830}{1}
      \kml{9}{K202111}{1}\kml{10}{K227371}{1}};
    \node[knode] (k158327) at (1615,2759.5) {\kmhead{15}{K158327}{K133067}{K183598}
      \kml{1}{K31}{1}\kml{2}{K25315}{1}\kml{3}{K70740}{1}\kml{4}{K80019}{1}
      \kml{5}{K103602}{1}\kml{6}{K133067}{1}\kml{7}{K158327}{1}\kml{8}{K183598}{1}
      \kml{9}{K218090}{1}\kml{10}{K227371}{1}};
    \node[knode] (k170092) at (1905,2759.5) {\kmhead{6}{K170092}{K126353,K141491}{K176014}
      \kml{1}{K31}{1}\kml{2}{K25291K25296K25315}{3}\kml{3}{K50551K54766K54771K70745}{4}
      \kml{4}{K75811K84241K88446}{3}\kml{5}{K101071K117909}{2}\kml{6}{K126353K141491}{2}
      \kml{7}{K170092}{1}\kml{8}{K176014}{1}\kml{9}{K205477}{1}\kml{10}{K229053}{1}};
    \node[knode] (k150749) at (2195,2759.5) {\kmhead{6}{K150749}{K125489}{K176014}
      \kml{1}{K31}{1}\kml{2}{K25315}{1}\kml{3}{K70734}{1}\kml{4}{K74969}{1}
      \kml{5}{K100229}{1}\kml{6}{K125489}{1}\kml{7}{K150749}{1}\kml{8}{K176014}{1}
      \kml{9}{K205477}{1}\kml{10}{K229053}{1}};
    \node[knode] (k147391) at (2423,2759.5) {\kmhead{12}{K147391}{K123803}{K181076}
      \kml{1}{K36}{1}\kml{2}{K29499}{1}\kml{3}{K53075}{1}\kml{4}{K76651}{1}
      \kml{5}{K100227}{1}\kml{6}{K123803}{1}\kml{7}{K147391}{1}\kml{8}{K181076}{1}
      \kml{9}{K218933}{1}\kml{10}{K229053}{1}};
    \node[knode] (k151596) at (2645,2759.5) {\kmhead{12}{K151596}{K126331}{K181076}
      \kml{1}{K31}{1}\kml{2}{K25291}{1}\kml{3}{K50551}{1}\kml{4}{K75811}{1}
      \kml{5}{K101071}{1}\kml{6}{K126331}{1}\kml{7}{K151596}{1}\kml{8}{K181076}{1}
      \kml{9}{K218933}{1}\kml{10}{K229053}{1}};
    \node[knode] (k147386) at (2875,2759.5) {\kmhead{7}{K147386}{K123803}{K176851}
      \kml{1}{K36}{1}\kml{2}{K29499}{1}\kml{3}{K53075}{1}\kml{4}{K76651}{1}
      \kml{5}{K100227}{1}\kml{6}{K123803}{1}\kml{7}{K147386}{1}\kml{8}{K176851}{1}
      \kml{9}{K202111}{1}\kml{10}{K227371}{1}};
    \node[knode] (k151591) at (3095,2759.5) {\kmhead{7}{K151591}{K126331}{K176851}
      \kml{1}{K31}{1}\kml{2}{K25291}{1}\kml{3}{K50551}{1}\kml{4}{K75811}{1}
      \kml{5}{K101071}{1}\kml{6}{K126331}{1}\kml{7}{K151591}{1}\kml{8}{K176851}{1}
      \kml{9}{K202111}{1}\kml{10}{K227371}{1}};
    \node[knode] (k166745) at (3350,2759.5) {\kmhead{23}{K166745}{K133077,K137282}{K190327}
      \kml{1}{K31}{1}\kml{2}{K25315}{1}\kml{3}{K70740}{1}\kml{4}{K80019}{1}
      \kml{5}{K103602K103607}{2}\kml{6}{K133077K137282}{2}\kml{7}{K166745}{1}
      \kml{8}{K190327}{1}\kml{9}{K218933}{1}\kml{10}{K229053}{1}};

    %--- Line 8 ---
    \node[knode] (k188644) at (849,3121) {\kmhead{27}{K188644}{K163379,K165061}{K218090}
      \kml{1}{K31K36}{2}\kml{2}{K25296K25301K25315K29499K29501K29506}{6}
      \kml{3}{K53099K54766K54771K54779K58971K58976K58986K70745}{8}
      \kml{4}{K84241K88446K95163K96856}{4}\kml{5}{K108654K117909}{2}
      \kml{6}{K138119K141485}{2}\kml{7}{K163379K165061}{2}\kml{8}{K188644}{1}
      \kml{9}{K218090}{1}\kml{10}{K227371}{1}};
    \node[knode] (k183598) at (1227,3121) {\kmhead{27}{K183598}{K158327}{K218090}
      \kml{1}{K31}{1}\kml{2}{K25315}{1}\kml{3}{K70740}{1}\kml{4}{K80019}{1}
      \kml{5}{K103602}{1}\kml{6}{K133067}{1}\kml{7}{K158327}{1}\kml{8}{K183598}{1}
      \kml{9}{K218090}{1}\kml{10}{K227371}{1}};
    \node[knode] (k171809) at (1457,3121) {\kmhead{12}{K171809}{K148221}{K205477}
      \kml{1}{K36}{1}\kml{2}{K29501}{1}\kml{3}{K54766}{1}\kml{4}{K84231}{1}
      \kml{5}{K109502}{1}\kml{6}{K143988}{1}\kml{7}{K148221}{1}\kml{8}{K171809}{1}
      \kml{9}{K205477}{1}\kml{10}{K229053}{1}};
    \node[knode] (k176014) at (1766,3121) {\kmhead{12}{K176014}{K150749,K170092}{K205477}
      \kml{1}{K31}{1}\kml{2}{K25291K25296K25315}{3}\kml{3}{K50551K54766K54771K70734K70745}{5}
      \kml{4}{K74969K75811K84241K88446}{4}\kml{5}{K100229K101071K117909}{3}
      \kml{6}{K125489K126353K141491}{3}\kml{7}{K150749K170092}{2}\kml{8}{K176014}{1}
      \kml{9}{K205477}{1}\kml{10}{K229053}{1}};
    \node[knode] (k175189) at (2097,3121) {\kmhead{28}{K175189}{K149907}{K218933}
      \kml{1}{K31K36}{2}\kml{2}{K25296K29501}{2}\kml{3}{K54779}{1}\kml{4}{K95152}{1}
      \kml{5}{K99387}{1}\kml{6}{K124647}{1}\kml{7}{K149907}{1}\kml{8}{K175189}{1}
      \kml{9}{K218933}{1}\kml{10}{K229053}{1}};
    \node[knode] (k181076) at (2424,3121) {\kmhead{28}{K181076}{K147391,K151596}{K218933}
      \kml{1}{K31K36}{2}\kml{2}{K25291K25296K25315K29499K29501}{5}\kml{3}{K50551K53075K70740}{3}
      \kml{4}{K75811K76651}{2}\kml{5}{K100227K101071}{2}\kml{6}{K123803K126331}{2}
      \kml{7}{K147391K151596}{2}\kml{8}{K181076}{1}\kml{9}{K218933}{1}\kml{10}{K229053}{1}};
    \node[knode] (k190327) at (2756,3121) {\kmhead{28}{K190327}{K166745}{K218933}
      \kml{1}{K31K36}{2}\kml{2}{K25315}{1}\kml{3}{K70740}{1}\kml{4}{K80019}{1}
      \kml{5}{K103602K103607}{2}\kml{6}{K133077K137282}{2}\kml{7}{K166745}{1}
      \kml{8}{K190327}{1}\kml{9}{K218933}{1}\kml{10}{K229053}{1}};
    \node[knode] (k192830) at (3010,3121) {\kmhead{8}{K192830}{K147405}{K202111}
      \kml{1}{K36}{1}\kml{2}{K29499}{1}\kml{3}{K53075}{1}\kml{4}{K76651}{1}
      \kml{5}{K100227}{1}\kml{6}{K123803}{1}\kml{7}{K147405}{1}\kml{8}{K192830}{1}
      \kml{9}{K202111}{1}\kml{10}{K227371}{1}};
    \node[knode] (k176851) at (3254,3121) {\kmhead{8}{K176851}{K151591,K147386}{K202111}
      \kml{1}{K31K36}{2}\kml{2}{K25291K29499}{2}\kml{3}{K50551K53075}{2}
      \kml{4}{K75811K76651}{2}\kml{5}{K100227K101071}{2}\kml{6}{K123803K126331}{2}
      \kml{7}{K147386K151591}{2}\kml{8}{K176851}{1}\kml{9}{K202111}{1}\kml{10}{K227371}{1}};

    %--- Line 9 ---
    \node[knode] (k205477) at (1699,3482.5) {\kmhead{11}{K205477}{K176014,K171809}{K229053}
      \kml{1}{K31K36}{2}\kml{2}{K25291K25296K25315K29501}{4}
      \kml{3}{K50551K54766K54771K70734K70745}{5}\kml{4}{K74969K75811K84231K84241K88446}{5}
      \kml{5}{K100229K101071K109502K117909}{4}\kml{6}{K125489K126353K141491K143988}{4}
      \kml{7}{K148221K150749K170092}{3}\kml{8}{K171809K176014}{2}\kml{9}{K205477}{1}
      \kml{10}{K229053}{1}};
    \node[knode] (k218933) at (2097,3482.5) {\kmhead{11}{K218933}{K190327,K181076,K175189}{K229053}
      \kml{1}{K31K36}{2}\kml{2}{K25291K25296K25315K29499K29501}{5}
      \kml{3}{K50551K53075K54779K70740}{4}\kml{4}{K75811K76651K80019K95152}{4}
      \kml{5}{K99387K100227K101071K103602K103607}{5}
      \kml{6}{K123803K124647K126331K133077K137282}{5}
      \kml{7}{K147391K149907K151596K166745}{4}\kml{8}{K175189K181076K190327}{3}
      \kml{9}{K218933}{1}\kml{10}{K229053}{1}};
    \node[knode] (k218090) at (2628,3482.5) {\kmhead{9}{K218090}{K188644,K183598}{K227371}
      \kml{1}{K31K36}{2}\kml{2}{K25296K25301K25315K29499K29501K29506}{6}
      \kml{3}{K53099K54766K54771K54779K58971K58976K58986K70740K70745}{9}
      \kml{4}{K80019K84241K88446K95163K96856}{5}\kml{5}{K103602K108654K117909}{3}
      \kml{6}{K133067K138119K141485}{3}\kml{7}{K158327K163379K165061}{3}
      \kml{8}{K183598K188644}{2}\kml{9}{K218090}{1}\kml{10}{K227371}{1}};
    \node[knode] (k202111) at (3066,3482.5) {\kmhead{9}{K202111}{K176851,K192830}{K227371}
      \kml{1}{K31K36}{2}\kml{2}{K25291K29499}{2}\kml{3}{K50551K53075}{2}
      \kml{4}{K75811K76651}{2}\kml{5}{K100227K101071}{2}\kml{6}{K123803K126331}{2}
      \kml{7}{K147386K147405K151591}{3}\kml{8}{K176851K192830}{2}\kml{9}{K202111}{1}
      \kml{10}{K227371}{1}};

    %--- Line 10 ---
    \node[knode] (k229053) at (2024,3844) {\kmhead{10}{K229053}{K218933,K205477}{}
      \kml{1}{K31K36}{2}\kml{2}{K25291K25296K25315K29499K29501}{5}
      \kml{3}{K50551K53075K54766K54771K54779K70734K70740K70745}{8}
      \kml{4}{K74969K75811K76651K80019K84231K84241K88446K95152}{8}
      \kml{5}{K99387K100227K100229K101071K103602K103607K109502K117909}{8}
      \kml{6}{K123803K124647K125489K126331K126353K133077K137282K141491K143988}{9}
      \kml{7}{K147391K148221K149907K150749K151596K166745K170092}{7}
      \kml{8}{K171809K175189K176014K181076K190327}{5}\kml{9}{K205477K218933}{2}
      \kml{10}{K229053}{1}};
    \node[knode] (k227371) at (2685,3844) {\kmhead{10}{K227371}{K202111,K218090}{}
      \kml{1}{K31K36}{2}\kml{2}{K25291K25296K25301K25315K29499K29501K29506}{7}
      \kml{3}{K50551K53075K53099K54766K54771K54779K58971K58976K58986K70740K70745}{11}
      \kml{4}{K75811K76651K80019K84241K88446K95163K96856}{7}
      \kml{5}{K100227K101071K103602K108654K117909}{5}
      \kml{6}{K123803K126331K133067K138119K141485}{5}
      \kml{7}{K147386K147405K151591K158327K163379K165061}{6}
      \kml{8}{K176851K183598K188644K192830}{4}\kml{9}{K202111K218090}{2}
      \kml{10}{K227371}{1}};

    %--- Line 0 -> Line 1 ---
    \draw[arr] (k1) -- (k31);
    \draw[arr] (k1) -- (k36);

    %--- Line 1 -> Line 2 ---
    \draw[arr] (k31) -- (k25296);
    \draw[arr] (k31) -- (k25301);
    \gapedge{k31}{k25315}{744.5}
    \gapedge{k31}{k25291}{744.5}
    \draw[arr] (k36) -- (k29501);
    \gapedge{k36}{k29506}{744.5}
    \gapedge{k36}{k29499}{744.5}

    %--- Line 2 -> Line 3 ---
    \draw[arr] (k25315) -- (k70745);
    \draw[arr] (k25315) -- (k70740);
    \gapedge{k25315}{k70734}{1106}
    \draw[arr] (k25301) -- (k58971);
    \gapedge{k25301}{k58976}{1106}
    \gapedge{k25301}{k58986}{1106}
    \draw[arr] (k29506) -- (k58976);
    \gapedge{k29506}{k58971}{1106}
    \gapedge{k29506}{k58986}{1106}
    \draw[arr] (k25296) -- (k54771);
    \gapedge{k25296}{k54766}{1106}
    \gapedge{k25296}{k54779}{1106}
    \gapedge{k29501}{k54766}{1106}
    \gapedge{k29501}{k54771}{1106}
    \gapedge{k29501}{k54779}{1106}
    \draw[arr] (k25291) -- (k50551);
    \draw[arr] (k29499) -- (k53075);
    \gapedge{k29499}{k53099}{1106}

    %--- Line 3 -> Line 4 ---
    \gapedge{k70734}{k74969}{1467.5}
    \gapedge{k70740}{k80019}{1467.5}
    \draw[arr] (k70745) -- (k84231);
    \gapedge{k70745}{k84241}{1467.5}
    \gapedge{k58971}{k84241}{1467.5}
    \gapedge{k54766}{k84231}{1467.5}
    \gapedge{k54766}{k84241}{1467.5}
    \gapedge{k58976}{k88446}{1467.5}
    \gapedge{k54771}{k88446}{1467.5}
    \gapedge{k58986}{k96856}{1467.5}
    \gapedge{k53099}{k96856}{1467.5}
    \gapedge{k54779}{k95152}{1467.5}
    \gapedge{k54779}{k95163}{1467.5}
    \gapedge{k50551}{k75811}{1467.5}
    \gapedge{k53075}{k76651}{1467.5}

    %--- Line 4 -> Line 5 ---
    \draw[arr] (k95163) -- (k108654);
    \draw[arr] (k84231) -- (k109502);
    \draw[arr] (k95152) -- (k99387);
    \gapedge{k74969}{k100229}{1829}
    \draw[arr] (k76651) -- (k100227);
    \draw[arr] (k75811) -- (k101071);
    \draw[arr] (k80019) -- (k103607);
    \draw[arr] (k80019) -- (k103602);
    \draw[arr] (k84241) -- (k117909);
    \draw[arr] (k88446) -- (k117909);
    \draw[arr] (k96856) -- (k117909);

    %--- Line 5 -> Line 6 ---
    \gapedge{k108654}{k138119}{2190.5}
    \gapedge{k109502}{k143988}{2190.5}
    \gapedge{k99387}{k124647}{2190.5}
    \gapedge{k100227}{k123803}{2190.5}
    \gapedge{k100229}{k125489}{2190.5}
    \draw[arr] (k101071) -- (k126353);
    \gapedge{k101071}{k126331}{2190.5}
    \gapedge{k103607}{k137282}{2190.5}
    \gapedge{k103602}{k133067}{2190.5}
    \gapedge{k103602}{k133077}{2190.5}
    \gapedge{k117909}{k141485}{2190.5}
    \gapedge{k117909}{k141491}{2190.5}

    %--- Line 6 -> Line 7 ---
    \draw[arr] (k143988) -- (k148221);
    \draw[arr] (k141485) -- (k165061);
    \draw[arr] (k138119) -- (k163379);
    \draw[arr] (k124647) -- (k149907);
    \draw[arr] (k133067) -- (k158327);
    \draw[arr] (k126353) -- (k170092);
    \draw[arr] (k141491) -- (k170092);
    \draw[arr] (k125489) -- (k150749);
    \draw[arr] (k123803) -- (k147391);
    \gapedge{k123803}{k147405}{2552}
    \gapedge{k123803}{k147386}{2552}
    \draw[arr] (k126331) -- (k151596);
    \gapedge{k126331}{k151591}{2552}
    \gapedge{k137282}{k166745}{2552}
    \draw[arr] (k133077) -- (k166745);

    %--- Line 7 -> Line 8 ---
    \gapedge{k148221}{k171809}{2913.5}
    \draw[arr] (k165061) -- (k188644);
    \draw[arr] (k163379) -- (k188644);
    \gapedge{k149907}{k175189}{2913.5}
    \gapedge{k147405}{k192830}{2913.5}
    \gapedge{k158327}{k183598}{2913.5}
    \draw[arr] (k170092) -- (k176014);
    \gapedge{k150749}{k176014}{2913.5}
    \draw[arr] (k147391) -- (k181076);
    \draw[arr] (k151596) -- (k181076);
    \gapedge{k147386}{k176851}{2913.5}
    \draw[arr] (k151591) -- (k176851);
    \gapedge{k166745}{k190327}{2913.5}

    %--- Line 8 -> Line 9 ---
    \gapedge{k188644}{k218090}{3275}
    \gapedge{k183598}{k218090}{3275}
    \draw[arr] (k171809) -- (k205477);
    \draw[arr] (k176014) -- (k205477);
    \draw[arr] (k175189) -- (k218933);
    \draw[arr] (k181076) -- (k218933);
    \gapedge{k190327}{k218933}{3275}
    \draw[arr] (k192830) -- (k202111);
    \draw[arr] (k176851) -- (k202111);

    %--- Line 9 -> Line 10 ---
    \draw[arr] (k205477) -- (k229053);
    \draw[arr] (k218933) -- (k229053);
    \draw[arr] (k218090) -- (k227371);
    \draw[arr] (k202111) -- (k227371);
  \end{tikzpicture}
\end{document}
